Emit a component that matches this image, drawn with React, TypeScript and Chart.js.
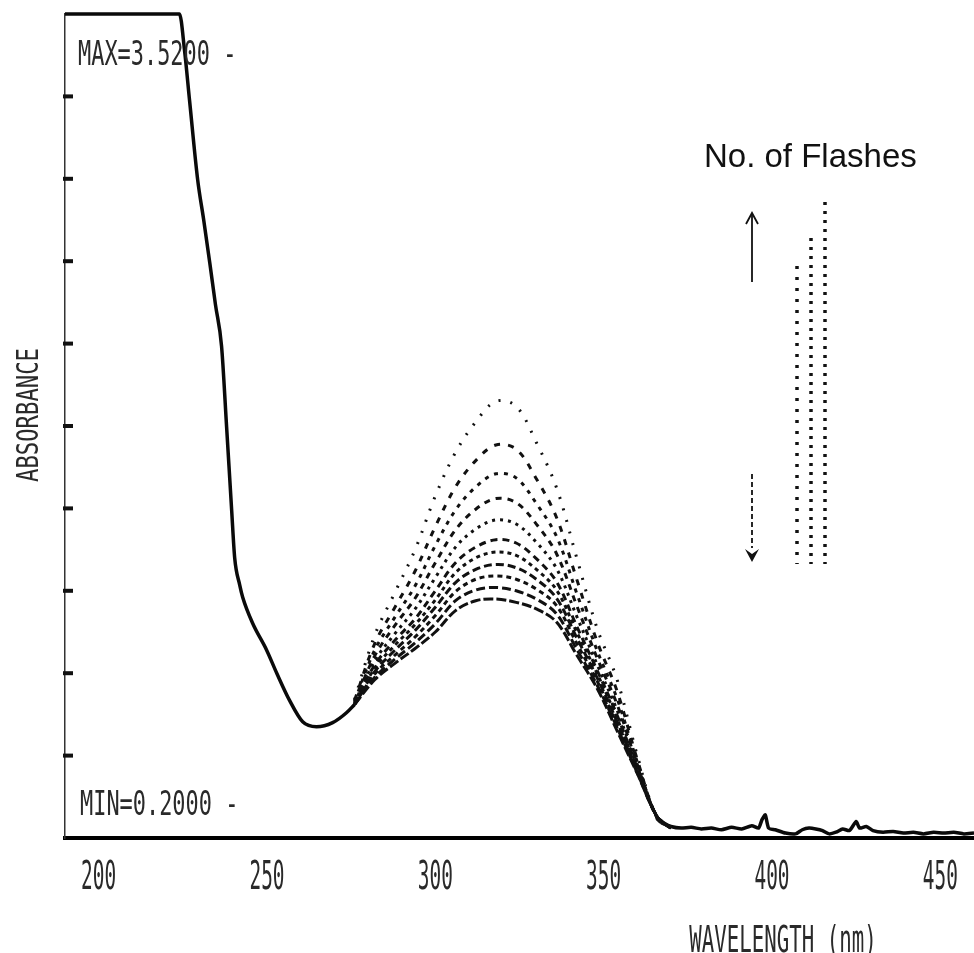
import React, { useEffect, useRef } from "react";
import { Chart, registerables } from "chart.js";

Chart.register(...registerables);

// ---- data (wavelength in nm, absorbance in plot units: 0 = MIN, 10 = top of frame) ----
const X_TICKS = [200, 250, 300, 350, 400, 450];
const Y_TICKS = [0, 1, 2, 3, 4, 5, 6, 7, 8, 9, 10];

const WAVE_COMMON = [190, 224, 225.5, 227, 229.4, 231.2, 233, 234.7, 236.5, 238, 239.5, 240.4, 241.9, 242.8, 245.7, 249.9, 252.9, 256.7, 260.6, 264.7, 269.5, 273.6, 276];
const ABS_COMMON = [10, 10, 9.56, 8.95, 7.99, 7.5, 6.98, 6.47, 5.97, 4.99, 3.98, 3.4, 3.07, 2.92, 2.61, 2.28, 2.0, 1.67, 1.41, 1.35, 1.4, 1.52, 1.62];

const WAVE_FLASH = [276, 282, 288, 294, 300, 306, 312, 318, 324, 330, 336, 342, 348, 354, 360, 366, 370];
const FLASH_1 = [1.68, 2.46, 2.98, 3.5, 4.15, 4.68, 5.05, 5.3, 5.24, 4.8, 4.25, 3.4, 2.55, 1.92, 1.0, 0.22, 0.13];
const FLASH_2 = [1.67, 2.36, 2.8, 3.24, 3.78, 4.26, 4.58, 4.77, 4.72, 4.36, 3.89, 3.14, 2.39, 1.78, 0.95, 0.23, 0.13];
const FLASH_3 = [1.66, 2.28, 2.68, 3.06, 3.55, 3.98, 4.26, 4.42, 4.37, 4.06, 3.66, 2.97, 2.28, 1.69, 0.92, 0.23, 0.13];
const FLASH_4 = [1.65, 2.21, 2.58, 2.91, 3.34, 3.74, 3.99, 4.12, 4.07, 3.81, 3.45, 2.82, 2.19, 1.62, 0.89, 0.24, 0.13];
const FLASH_5 = [1.64, 2.15, 2.48, 2.78, 3.16, 3.53, 3.75, 3.86, 3.81, 3.59, 3.27, 2.69, 2.11, 1.55, 0.87, 0.24, 0.12];
const FLASH_6 = [1.63, 2.1, 2.4, 2.66, 3.0, 3.34, 3.53, 3.62, 3.58, 3.39, 3.11, 2.57, 2.04, 1.49, 0.85, 0.24, 0.12];
const FLASH_7 = [1.63, 2.06, 2.34, 2.59, 2.89, 3.22, 3.4, 3.47, 3.43, 3.26, 3.01, 2.5, 2.0, 1.45, 0.83, 0.25, 0.12];
const FLASH_8 = [1.62, 2.02, 2.28, 2.52, 2.8, 3.1, 3.26, 3.32, 3.28, 3.14, 2.91, 2.43, 1.95, 1.41, 0.82, 0.25, 0.12];
const FLASH_9 = [1.62, 1.99, 2.22, 2.44, 2.7, 2.99, 3.14, 3.18, 3.14, 3.02, 2.82, 2.36, 1.91, 1.37, 0.81, 0.25, 0.12];
const FLASH_10 = [1.62, 1.95, 2.17, 2.37, 2.6, 2.88, 3.01, 3.04, 3.0, 2.9, 2.72, 2.29, 1.86, 1.34, 0.79, 0.25, 0.12];
const FLASH_11 = [1.62, 1.92, 2.12, 2.3, 2.5, 2.76, 2.88, 2.9, 2.86, 2.78, 2.62, 2.22, 1.82, 1.3, 0.78, 0.25, 0.12];
const FLASH_SERIES = [FLASH_1, FLASH_2, FLASH_3, FLASH_4, FLASH_5, FLASH_6, FLASH_7, FLASH_8, FLASH_9, FLASH_10, FLASH_11];
const FLASH_DASHES = [[2, 10], [6, 8], [4, 6], [6, 6], [3, 5], [7, 5], [4, 4], [8, 4], [5, 4], [9, 4], [10, 3]];

const WAVE_BASE = [366, 368, 370, 373, 376, 379, 382, 385, 388, 391, 394, 396, 397, 398, 399, 401, 404, 407, 409, 411, 413, 415, 417, 419, 421, 423, 425, 426, 428, 430, 433, 436, 439, 442, 445, 448, 451, 454, 457, 460];
const ABS_BASE = [0.24, 0.18, 0.14, 0.12, 0.13, 0.11, 0.12, 0.1, 0.13, 0.11, 0.15, 0.12, 0.22, 0.28, 0.12, 0.1, 0.06, 0.05, 0.1, 0.12, 0.11, 0.09, 0.05, 0.07, 0.11, 0.09, 0.2, 0.12, 0.14, 0.09, 0.07, 0.08, 0.06, 0.07, 0.05, 0.07, 0.06, 0.07, 0.05, 0.06];

const MAX_LABEL = "MAX=3.5200 -";
const MIN_LABEL = "MIN=0.2000 -";
const Y_TITLE = "ABSORBANCE";
const X_TITLE = "WAVELENGTH (nm)";
const LEGEND_TITLE = "No. of Flashes";

const toPoints = (xs: number[], ys: number[]) => xs.map((x, i) => ({ x, y: ys[i] }));

function dotText(
  ctx: CanvasRenderingContext2D,
  text: string,
  x: number,
  yCenter: number,
  capH: number,
  charW: number,
  align: CanvasTextAlign
) {
  const fontSize = capH / 0.729;
  const natural = 0.602 * fontSize;
  const sx = charW / natural;
  ctx.save();
  ctx.translate(x, yCenter + capH / 2);
  ctx.scale(sx, 1);
  ctx.font = `${fontSize}px "DejaVu Sans Mono"`;
  ctx.textAlign = align;
  ctx.textBaseline = "alphabetic";
  ctx.fillStyle = "#2a2a2a";
  ctx.fillText(text, 0, 0);
  ctx.restore();
}

const decorPlugin = {
  id: "decor",
  afterDraw(chart: any) {
    const ctx: CanvasRenderingContext2D = chart.ctx;
    const xs = chart.scales.x;
    const ys = chart.scales.y;
    const area = chart.chartArea;
    ctx.save();
    // inward y tick marks
    ctx.fillStyle = "#111";
    ys.ticks.forEach((t: any) => {
      if (t.value <= 0 || t.value >= 10) return;
      const py = ys.getPixelForValue(t.value);
      ctx.fillRect(area.left - 2, py - 2, 10, 4);
    });
    // x tick labels
    xs.ticks.forEach((t: any) => {
      const px = xs.getPixelForValue(t.value);
      dotText(ctx, String(t.value), px, 875, 28, 11.7, "center");
    });
    // MAX / MIN labels
    dotText(ctx, MAX_LABEL, area.left + 13, 52, 25, 13.2, "left");
    dotText(ctx, MIN_LABEL, area.left + 15, 802, 25, 13.2, "left");
    // y title (rotated)
    ctx.save();
    ctx.translate(27, 415);
    ctx.rotate(-Math.PI / 2);
    dotText(ctx, Y_TITLE, 0, 0, 22, 13.4, "center");
    ctx.restore();
    // x title (cut at bottom like the scan)
    dotText(ctx, X_TITLE, 783, 938, 27, 12.5, "center");
    // legend title
    ctx.fillStyle = "#111";
    ctx.font = '33px "Liberation Sans", Arial, sans-serif';
    ctx.textAlign = "left";
    ctx.textBaseline = "alphabetic";
    ctx.fillText(LEGEND_TITLE, 704, 167);
    // arrows
    ctx.strokeStyle = "#111";
    ctx.lineWidth = 1.8;
    ctx.beginPath();
    ctx.moveTo(752, 282);
    ctx.lineTo(752, 214);
    ctx.stroke();
    ctx.beginPath();
    ctx.moveTo(746, 224);
    ctx.lineTo(752, 213);
    ctx.lineTo(758, 224);
    ctx.stroke();
    ctx.setLineDash([5, 3]);
    ctx.beginPath();
    ctx.moveTo(752, 474);
    ctx.lineTo(752, 548);
    ctx.stroke();
    ctx.setLineDash([]);
    ctx.beginPath();
    ctx.moveTo(745, 549);
    ctx.lineTo(752, 562);
    ctx.lineTo(759, 549);
    ctx.lineTo(752, 554);
    ctx.closePath();
    ctx.fill();
    // dotted legend columns
    ctx.lineWidth = 3.5;
    const cols = [
      { x: 797, top: 266, dash: [3, 8] },
      { x: 811, top: 238, dash: [3, 6] },
      { x: 825, top: 202, dash: [3, 6] },
    ];
    cols.forEach((c) => {
      ctx.setLineDash(c.dash);
      ctx.beginPath();
      ctx.moveTo(c.x, c.top);
      ctx.lineTo(c.x, 564);
      ctx.stroke();
    });
    ctx.setLineDash([]);
    ctx.restore();
  },
};

export default function App() {
  const ref = useRef<HTMLCanvasElement | null>(null);
  useEffect(() => {
    if (!ref.current) return;
    const flashSets = FLASH_SERIES.map((s, i) => ({
      label: `flashes ${i + 1}`,
      data: toPoints(WAVE_FLASH, s),
      borderColor: "#111",
      borderWidth: 3,
      borderDash: FLASH_DASHES[i],
      pointRadius: 0,
      tension: 0.35,
      fill: false,
      clip: 6,
    }));
    const chart = new Chart(ref.current, {
      type: "line",
      data: {
        datasets: [
          ...flashSets,
          {
            label: "common",
            data: toPoints(WAVE_COMMON, ABS_COMMON),
            borderColor: "#0a0a0a",
            borderWidth: 3.5,
            pointRadius: 0,
            cubicInterpolationMode: "monotone",
            fill: false,
            clip: 6,
          },
          {
            label: "baseline",
            data: toPoints(WAVE_BASE, ABS_BASE),
            borderColor: "#0a0a0a",
            borderWidth: 3.5,
            pointRadius: 0,
            tension: 0.2,
            fill: false,
            clip: 6,
          },
        ],
      },
      options: {
        animation: false,
        responsive: false,
        maintainAspectRatio: false,
        layout: { padding: { top: 14, right: 0, left: 0, bottom: 0 } },
        plugins: { legend: { display: false }, tooltip: { enabled: false }, title: { display: false } },
        scales: {
          x: {
            type: "linear",
            min: 190,
            max: 460,
            afterBuildTicks: (scale: any) => {
              scale.ticks = X_TICKS.map((v) => ({ value: v }));
            },
            afterFit: (scale: any) => {
              scale.height = 115;
            },
            ticks: { display: false },
            grid: { display: false, drawTicks: false },
            border: { display: true, color: "#000", width: 4 },
          },
          y: {
            type: "linear",
            min: 0,
            max: 10,
            afterBuildTicks: (scale: any) => {
              scale.ticks = Y_TICKS.map((v) => ({ value: v }));
            },
            afterFit: (scale: any) => {
              scale.width = 65;
            },
            ticks: { display: false },
            grid: { display: false, drawTicks: false },
            border: { display: true, color: "#333", width: 1.5, dash: [14, 4] },
          },
        },
      },
      plugins: [decorPlugin],
    } as any);
    return () => chart.destroy();
  }, []);
  return (
    <div style={{ position: "fixed", left: 0, top: 0, width: 974, height: 953, background: "#fff" }}>
      <canvas ref={ref} width={974} height={953} style={{ display: "block" }} />
    </div>
  );
}
